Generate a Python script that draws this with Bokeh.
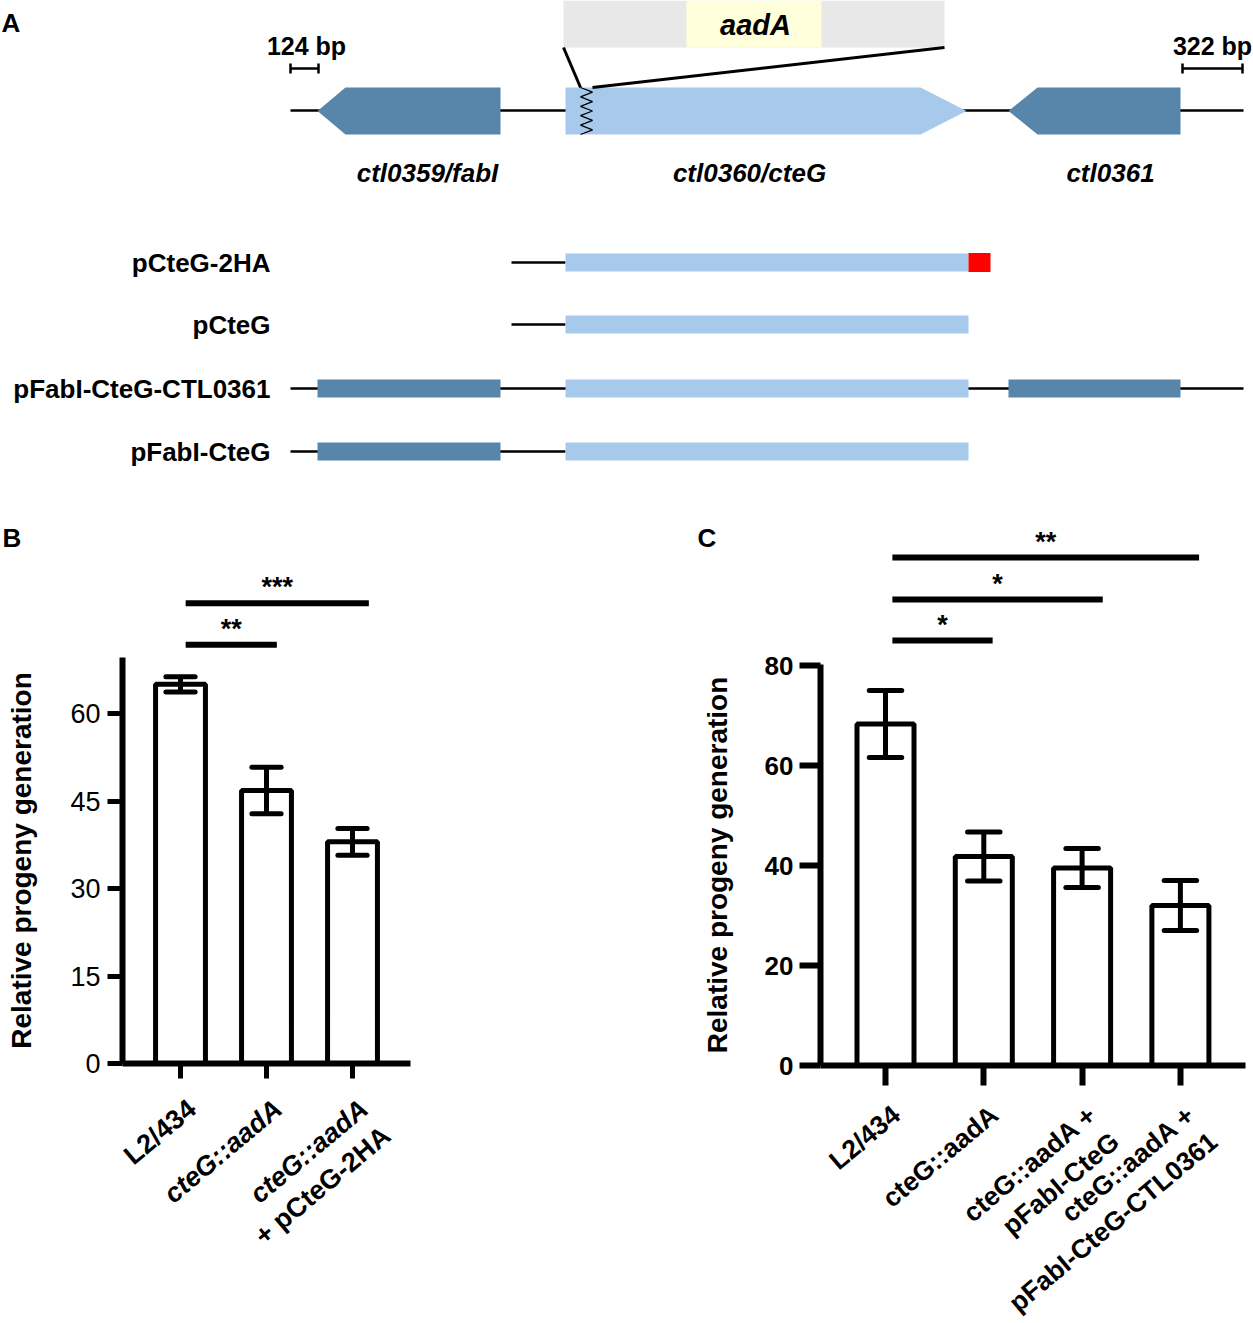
import math
from bokeh.plotting import figure
from bokeh.layouts import column, row
from bokeh.models import Range1d, FixedTicker
from bokeh.core.properties import value
from bokeh.embed import file_html
from bokeh.resources import INLINE

FONT = "Liberation Sans"
DARK = "#5886AB"
LIGHT = "#A7C9EC"
GRAY = "#E8E8E8"
CREAM = "#FFFFDC"
RED = "#FF0000"

# ---------------- data ----------------
# Panel A - locus map
gene_names = ["ctl0359/fabI", "ctl0360/cteG", "ctl0361"]
gene_start = [317, 565, 1008]
gene_end = [500, 966, 1180]
gene_strand = [-1, 1, -1]
gene_tip = [28, 46, 29]
gene_colors = [DARK, LIGHT, DARK]
gene_label_x = [427, 749, 1110]

construct_names = ["pCteG-2HA", "pCteG", "pFabI-CteG-CTL0361", "pFabI-CteG"]
construct_y = [262, 324, 388, 451]
construct_line = [(511, 565), (511, 565), (290, 1243), (290, 565)]
construct_blocks = [
    [(565, 968, LIGHT), (968, 990, RED)],
    [(565, 968, LIGHT)],
    [(317, 500, DARK), (565, 968, LIGHT), (1008, 1180, DARK)],
    [(317, 500, DARK), (565, 968, LIGHT)],
]

# Panel B
b_groups = [[("L2/434", "bold")],
            [("cteG::aadA", "bold italic")],
            [("cteG::aadA", "bold italic"), ("+ pCteG-2HA", "bold")]]
b_mean = [65.0, 46.8, 38.0]
b_err = [1.3, 4.0, 2.3]
b_yticks = [0, 15, 30, 45, 60]
b_sig_text = ["**", "***"]
b_sig_x0 = [1.06, 1.06]
b_sig_x1 = [2.12, 3.19]
b_sig_y = [71.8, 78.9]

# Panel C
c_groups = [["L2/434"], ["cteG::aadA"], ["cteG::aadA +", "pFabI-CteG"],
            ["cteG::aadA +", "pFabI-CteG-CTL0361"]]
c_mean = [68.3, 41.8, 39.5, 32.0]
c_err = [6.7, 4.9, 3.9, 5.0]
c_yticks = [0, 20, 40, 60, 80]
c_sig_text = ["*", "*", "**"]
c_sig_x0 = [1.07, 1.07, 1.07]
c_sig_x1 = [2.09, 3.21, 4.19]
c_sig_y = [85.0, 93.2, 101.6]

ANG = math.radians(40)


def blank(width, height, xr, yr):
    f = figure(width=width, height=height, x_range=Range1d(*xr), y_range=Range1d(*yr),
               output_backend="svg", toolbar_location=None, x_axis_type=None, y_axis_type=None,
               min_border=0)
    f.grid.visible = False
    f.outline_line_color = None
    return f


# ---------------- panel A ----------------
pA = blank(1253, 508, (0, 1253), (508, 0))
TOP, BOT, MID = 87, 134, 110.5
pA.segment(x0=[290], y0=[110], x1=[1243], y1=[110], line_color="black", line_width=2.5)
xs, ys = [], []
for s, e, d, t in zip(gene_start, gene_end, gene_strand, gene_tip):
    if d < 0:
        xs.append([s, s + t, e, e, s + t])
        ys.append([MID, TOP, TOP, BOT, BOT])
    else:
        xs.append([s, e - t, e, e - t, s])
        ys.append([TOP, TOP, MID, BOT, BOT])
pA.patches(xs=xs, ys=ys, fill_color=gene_colors, line_color=None)
pA.text(x=gene_label_x, y=[172] * 3, text=gene_names, text_align="center", text_baseline="middle",
        text_font=value(FONT), text_font_style="bold italic", text_font_size="26px", text_color="black")

pA.quad(left=[563], right=[944], top=[0], bottom=[47], fill_color=GRAY, line_color=None)
pA.quad(left=[686], right=[821], top=[0], bottom=[47], fill_color=CREAM, line_color=None)
pA.text(x=[755], y=[24], text=["aadA"], text_align="center", text_baseline="middle",
        text_font=value(FONT), text_font_style="bold italic", text_font_size="29px", text_color="black")
pA.segment(x0=[563, 944], y0=[47, 47], x1=[580, 592], y1=[87, 87], line_color="black", line_width=3)
zx = [580 if i % 2 == 0 else 592 for i in range(11)]
zy = [87 + i * 4.7 for i in range(11)]
pA.line(x=zx, y=zy, line_color="black", line_width=1.3)

for x0, x1, lab, lx in [(290, 318, "124 bp", 306), (1182, 1242, "322 bp", 1212)]:
    pA.segment(x0=[x0, x0, x1], y0=[68, 63, 63], x1=[x1, x0, x1], y1=[68, 73, 73],
               line_color="black", line_width=2.5)
    pA.text(x=[lx], y=[45], text=[lab], text_align="center", text_baseline="middle",
            text_font=value(FONT), text_font_style="bold", text_font_size="25px", text_color="black")

for name, yc, (l0, l1), blocks in zip(construct_names, construct_y, construct_line, construct_blocks):
    pA.segment(x0=[l0], y0=[yc], x1=[l1], y1=[yc], line_color="black", line_width=2.5)
    for b0, b1, col in blocks:
        h = 9.5 if col == RED else 9
        pA.quad(left=[b0], right=[b1], top=[yc - h], bottom=[yc + h], fill_color=col, line_color=None)
pA.text(x=[270] * 4, y=construct_y, text=construct_names, text_align="right", text_baseline="middle",
        text_font=value(FONT), text_font_style="bold", text_font_size="26px", text_color="black")
pA.text(x=[1], y=[22], text=["A"], text_align="left", text_baseline="middle",
        text_font=value(FONT), text_font_style="bold", text_font_size="26px", text_color="black")


def style_axes(p, yticks, tick_out_y, tick_out_x, label_bold, standoff, tick_w):
    p.grid.visible = False
    p.outline_line_color = None
    ya = p.yaxis[0]
    ya.ticker = FixedTicker(ticks=yticks)
    ya.axis_line_width = 6
    ya.major_tick_line_width = tick_w
    ya.major_tick_out = tick_out_y
    ya.major_tick_in = 0
    ya.minor_tick_out = 0
    ya.minor_tick_in = 0
    ya.major_label_standoff = 6 if label_bold else 7
    ya.major_label_text_font = FONT
    ya.major_label_text_font_size = "26px" if label_bold else "27px"
    ya.major_label_text_font_style = "bold" if label_bold else "normal"
    ya.major_label_text_color = "black"
    ya.axis_label = "Relative progeny generation"
    ya.axis_label_text_font = FONT
    ya.axis_label_text_font_size = "28px"
    ya.axis_label_text_font_style = "bold"
    ya.axis_label_text_color = "black"
    ya.axis_label_standoff = standoff
    xa = p.xaxis[0]
    xa.axis_line_width = 6
    xa.major_tick_line_width = tick_w
    xa.major_tick_out = tick_out_x
    xa.major_tick_in = 0
    xa.minor_tick_out = 0
    xa.minor_tick_in = 0
    xa.major_label_standoff = 0
    xa.major_label_text_font_size = "0px"


def draw_bars(p, xs_, mean, err, half_cap):
    p.vbar(x=xs_, top=mean, width=0.58, bottom=0, fill_color="white", line_color="black", line_width=5)
    lo = [m - e for m, e in zip(mean, err)]
    hi = [m + e for m, e in zip(mean, err)]
    p.segment(x0=xs_, y0=lo, x1=xs_, y1=hi, line_color="black", line_width=5)
    p.segment(x0=[x - half_cap for x in xs_] * 2, y0=lo + hi, x1=[x + half_cap for x in xs_] * 2,
              y1=lo + hi, line_color="black", line_width=5, line_cap="round")


# ---------------- panel B ----------------
B_X1PX, B_STEP, B_Y0PX, B_PPU = 180.0, 86.0, 1063.0, 5.833


def bx(px):
    return 1 + (px - B_X1PX) / B_STEP


def by(py):
    return (B_Y0PX - py) / B_PPU


bxs = [1, 2, 3]
topB = blank(680, 142, (bx(0), bx(680)), (by(650), by(508)))
topB.segment(x0=b_sig_x0, y0=b_sig_y, x1=b_sig_x1, y1=b_sig_y, line_color="black", line_width=6)
topB.text(x=[(a + b) / 2 for a, b in zip(b_sig_x0, b_sig_x1)], y=[v + 16 / B_PPU for v in b_sig_y],
          text=b_sig_text, text_align="center", text_baseline="middle", text_font=value(FONT),
          text_font_style="bold", text_font_size="27px", text_color="black")
topB.text(x=[bx(2)], y=[by(537)], text=["B"], text_align="left", text_baseline="middle",
          text_font=value(FONT), text_font_style="bold", text_font_size="26px", text_color="black")

pB = figure(width=680, height=435, x_range=Range1d(bx(122), bx(680)), y_range=Range1d(0, by(657)),
            output_backend="svg", toolbar_location=None,
            min_border_left=122, min_border_right=0, min_border_top=7, min_border_bottom=22)
style_axes(pB, b_yticks, 15, 15, False, 30, 5)
pB.xaxis[0].ticker = FixedTicker(ticks=bxs)
pB.xaxis[0].major_label_overrides = {1: "", 2: "", 3: ""}
pB.xaxis[0].bounds = (bx(122), bx(410))
draw_bars(pB, bxs, b_mean, b_err, 0.17)

# bottom strip (its frame is aligned with pB's frame by the column layout)
botB = blank(680, 237, (bx(122), bx(680)), (by(1322), by(1085)))
botB.min_border_left = 122
for x, lines in zip(bxs, b_groups):
    ax = B_X1PX + (x - 1) * B_STEP + 2
    ay = 1093
    for k, (txt, st) in enumerate(lines):
        botB.text(x=[bx(ax + 22.5 * k)], y=[by(ay + 26.8 * k)], text=[txt], angle=ANG,
                  text_align="right", text_baseline="top", text_font=value(FONT),
                  text_font_size="27px", text_font_style=st, text_color="black")

# ---------------- panel C ----------------
C_X1PX, C_STEP, C_Y0PX, C_PPU = 885.0, 98.3, 1065.0, 5.0


def cx(px):
    return 1 + (px - C_X1PX) / C_STEP


def cy(py):
    return (C_Y0PX - py) / C_PPU


cxs = [1, 2, 3, 4]
topC = blank(573, 142, (cx(680), cx(1253)), (cy(650), cy(508)))
topC.segment(x0=c_sig_x0, y0=c_sig_y, x1=c_sig_x1, y1=c_sig_y, line_color="black", line_width=6)
topC.text(x=[(a + b) / 2 for a, b in zip(c_sig_x0, c_sig_x1)], y=[v + 16 / C_PPU for v in c_sig_y],
          text=c_sig_text, text_align="center", text_baseline="middle", text_font=value(FONT),
          text_font_style="bold", text_font_size="27px", text_color="black")
topC.text(x=[cx(697)], y=[cy(537)], text=["C"], text_align="left", text_baseline="middle",
          text_font=value(FONT), text_font_style="bold", text_font_size="26px", text_color="black")

pC = figure(width=573, height=439, x_range=Range1d(cx(820), cx(1253)), y_range=Range1d(0, cy(664)),
            output_backend="svg", toolbar_location=None,
            min_border_left=140, min_border_right=0, min_border_top=14, min_border_bottom=24)
style_axes(pC, c_yticks, 21, 20, True, 29, 6)
pC.xaxis[0].ticker = FixedTicker(ticks=cxs)
pC.xaxis[0].major_label_overrides = {1: "", 2: "", 3: "", 4: ""}
pC.xaxis[0].bounds = (cx(820), cx(1245))
draw_bars(pC, cxs, c_mean, c_err, 0.165)

botC = blank(573, 233, (cx(820), cx(1253)), (cy(1322), cy(1089)))
botC.min_border_left = 140
for x, lines in zip(cxs, c_groups):
    ax = C_X1PX + (x - 1) * C_STEP + 1
    ay = 1099
    for k, txt in enumerate(lines):
        botC.text(x=[cx(ax + 22.5 * k)], y=[cy(ay + 26.8 * k)], text=[txt], angle=ANG,
                  text_align="right", text_baseline="top", text_font=value(FONT),
                  text_font_size="26.5px", text_font_style="bold", text_color="black")

layout = column(pA, row(topB, topC), row(column(pB, botB), column(pC, botC)))
open("out.html", "w").write(file_html(layout, INLINE))
